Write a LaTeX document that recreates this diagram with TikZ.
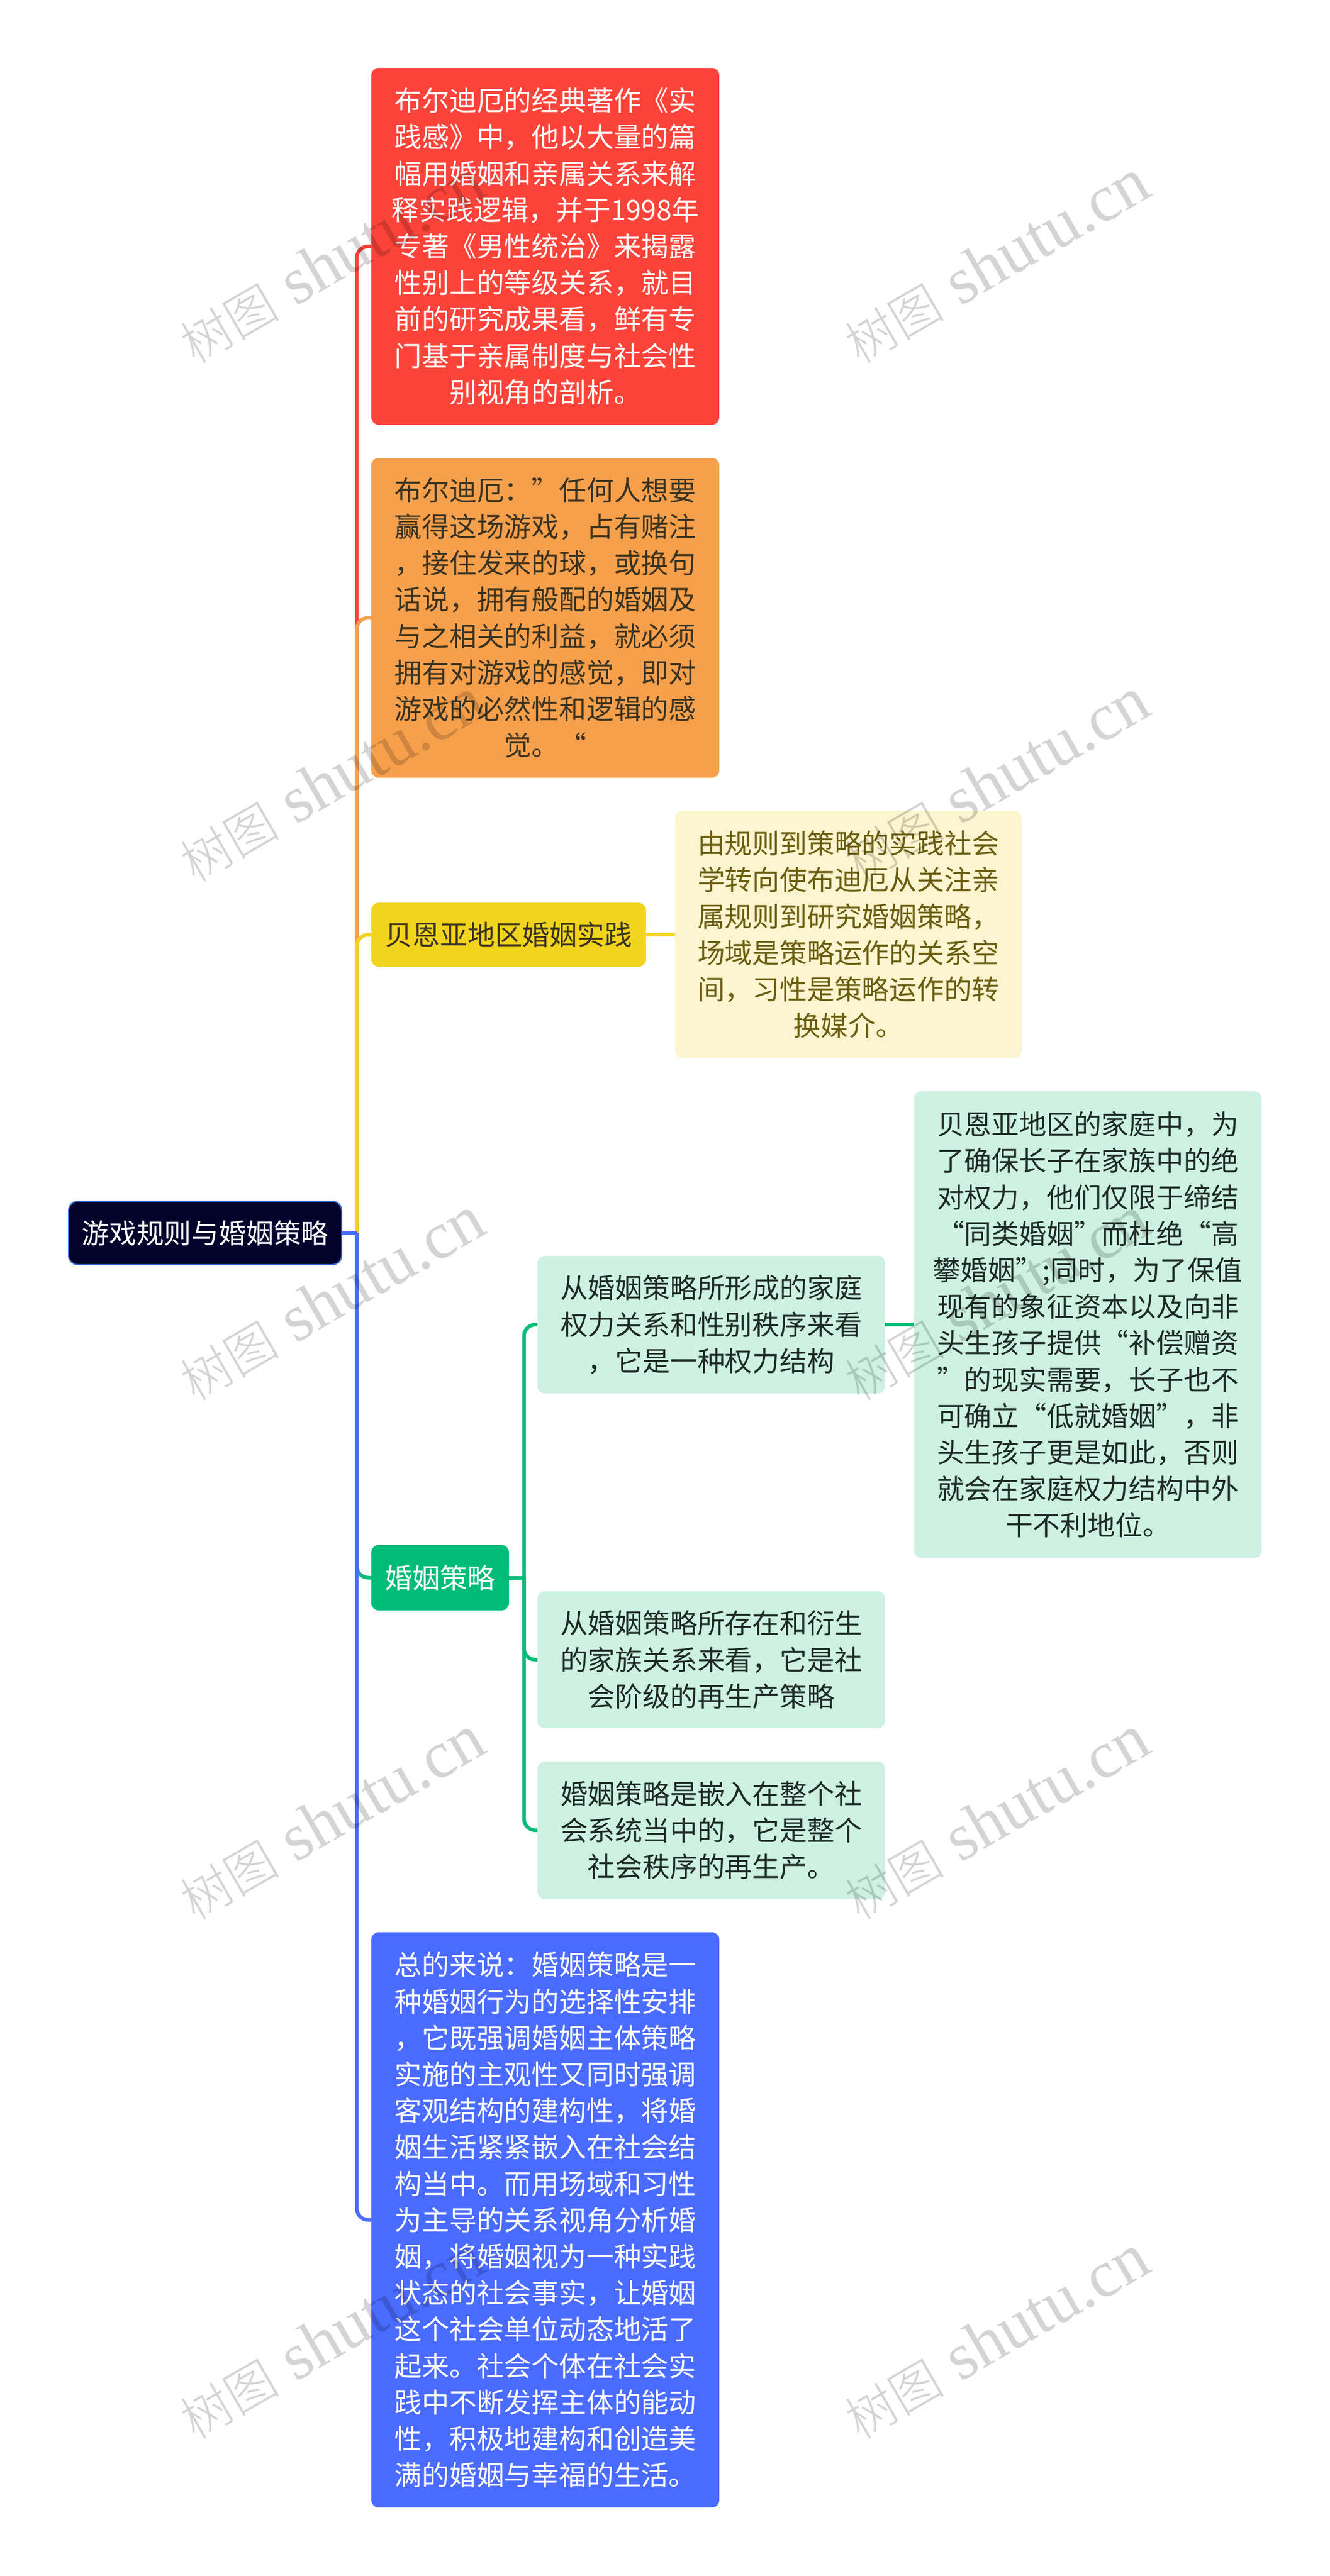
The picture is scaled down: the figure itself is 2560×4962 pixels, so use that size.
\documentclass[tikz,border=0pt]{standalone}
\usepackage{fontspec}
\setmainfont{Liberation Serif}
\newfontfamily\cjk[Language=Chinese Simplified,Script=CJK]{Noto Sans CJK SC}
\newfontfamily\cjklight[Script=CJK]{Noto Sans CJK SC Light}
\newfontfamily\wmlatin{Liberation Serif}
\definecolor{cred}{HTML}{FB4339}
\definecolor{corange}{HTML}{F7A04C}
\definecolor{cyellow}{HTML}{F2D31E}
\definecolor{cgreen}{HTML}{00BC7B}
\definecolor{cblue}{HTML}{4A6BFF}
\definecolor{cteal}{HTML}{CDF1E2}
\definecolor{cpale}{HTML}{FCF5D0}
\definecolor{croot}{HTML}{02022B}
\definecolor{crootline}{HTML}{3A6FD8}
\definecolor{tdark}{HTML}{3A3320}
\definecolor{tolive}{HTML}{6B5E10}
\definecolor{tteal}{HTML}{1E2A26}
\tikzset{
  x=0.5pt,y=-0.5pt,
  card/.style={rectangle,rounded corners=7pt,inner sep=0pt,align=center,
    font=\cjk\fontsize{26.4}{35.1}\selectfont},
  link/.style={line width=3.5pt,rounded corners=11pt},
  stub/.style={line width=3.5pt},
  wmark/.style={rotate=30,text=black,text opacity=0.17,inner sep=0pt,anchor=base west},
}
\newcommand{\wmtext}{{\cjklight\fontsize{48}{48}\selectfont 树图}{\wmlatin\fontsize{64}{64}\selectfont{} shutu.cn}}
\begin{document}
\begin{tikzpicture}
\useasboundingbox[fill=white] (0,0) rectangle (2560,4962);
% nodes
\node[card,fill=croot,draw=crootline,line width=1.2pt,rounded corners=9pt,text=white,minimum width=263pt,minimum height=61pt] (root) at (395,2375) {游戏规则与婚姻策略};
\node[card,fill=cred,text=white,minimum width=335pt,minimum height=343.5pt] (nred) at (1050,474.5) {布尔迪厄的经典著作《实\\践感》中，他以大量的篇\\幅用婚姻和亲属关系来解\\释实践逻辑，并于1998年\\专著《男性统治》来揭露\\性别上的等级关系，就目\\前的研究成果看，鲜有专\\门基于亲属制度与社会性\\别视角的剖析。};
\node[card,fill=corange,text=tdark,minimum width=335pt,minimum height=308pt] (norange) at (1050,1190) {布尔迪厄：”任何人想要\\赢得这场游戏，占有赌注\\，接住发来的球，或换句\\话说，拥有般配的婚姻及\\与之相关的利益，就必须\\拥有对游戏的感觉，即对\\游戏的必然性和逻辑的感\\觉。“};
\node[card,fill=cyellow,text=tdark,minimum width=264.5pt,minimum height=61.5pt] (nyellow) at (979.5,1800.5) {贝恩亚地区婚姻实践};
\node[card,fill=cpale,text=tolive,minimum width=333.5pt,minimum height=238pt] (npale) at (1633.5,1800) {由规则到策略的实践社会\\学转向使布迪厄从关注亲\\属规则到研究婚姻策略，\\场域是策略运作的关系空\\间，习性是策略运作的转\\换媒介。};
\node[card,fill=cgreen,text=white,minimum width=132.5pt,minimum height=63pt] (ngreen) at (847.5,3039) {婚姻策略};
\node[card,fill=cteal,text=tteal,minimum width=334.5pt,minimum height=132.5pt] (tone) at (1369.5,2551.5) {从婚姻策略所形成的家庭\\权力关系和性别秩序来看\\，它是一种权力结构};
\node[card,fill=cteal,text=tteal,minimum width=334.5pt,minimum height=449.5pt] (tbig) at (2094.5,2551.5) {贝恩亚地区的家庭中，为\\了确保长子在家族中的绝\\对权力，他们仅限于缔结\\“同类婚姻”而杜绝“高\\攀婚姻”;同时，为了保值\\现有的象征资本以及向非\\头生孩子提供“补偿赠资\\”的现实需要，长子也不\\可确立“低就婚姻”，非\\头生孩子更是如此，否则\\就会在家庭权力结构中外\\干不利地位。};
\node[card,fill=cteal,text=tteal,minimum width=334.5pt,minimum height=132pt] (ttwo) at (1369.5,3197) {从婚姻策略所存在和衍生\\的家族关系来看，它是社\\会阶级的再生产策略};
\node[card,fill=cteal,text=tteal,minimum width=334.5pt,minimum height=132.5pt] (tthree) at (1369.5,3525.5) {婚姻策略是嵌入在整个社\\会系统当中的，它是整个\\社会秩序的再生产。};
\node[card,fill=cblue,text=white,minimum width=335pt,minimum height=554pt] (nblue) at (1050,4276) {总的来说：婚姻策略是一\\种婚姻行为的选择性安排\\，它既强调婚姻主体策略\\实施的主观性又同时强调\\客观结构的建构性，将婚\\姻生活紧紧嵌入在社会结\\构当中。而用场域和习性\\为主导的关系视角分析婚\\姻，将婚姻视为一种实践\\状态的社会事实，让婚姻\\这个社会单位动态地活了\\起来。社会个体在社会实\\践中不断发挥主体的能动\\性，积极地建构和创造美\\满的婚姻与幸福的生活。};
% connectors
\coordinate (tk) at (687,2375);
\coordinate (tg) at (1009,3039);
\draw[link,cred] (tk) -- (tk |- nred.west) -- (nred.west);
\draw[link,corange] (tk) -- (tk |- norange.west) -- (norange.west);
\draw[link,cyellow] (tk) -- (tk |- nyellow.west) -- (nyellow.west);
\draw[link,cgreen] (tk) -- (tk |- ngreen.west) -- (ngreen.west);
\draw[link,cblue] (tk) -- (tk |- nblue.west) -- (nblue.west);
\draw[stub,cblue] (root.east) -- (tk);
\draw[stub,cyellow] (nyellow.east) -- (npale.west);
\draw[stub,cgreen] (ngreen.east) -- (tg);
\draw[link,cgreen] (tg) -- (tg |- tone.west) -- (tone.west);
\draw[link,cgreen] (tg) -- (tg |- ttwo.west) -- (ttwo.west);
\draw[link,cgreen] (tg) -- (tg |- tthree.west) -- (tthree.west);
\draw[stub,cgreen] (tone.east) -- (tbig.west);
% watermarks
\foreach \wy [count=\i] in {703,1702,2701,3701,4701}{
  \node[wmark] (wl\i) at (375,\wy) {\wmtext};
  \node[wmark] (wr\i) at (1655,\wy) {\wmtext};
}
\end{tikzpicture}
\end{document}
